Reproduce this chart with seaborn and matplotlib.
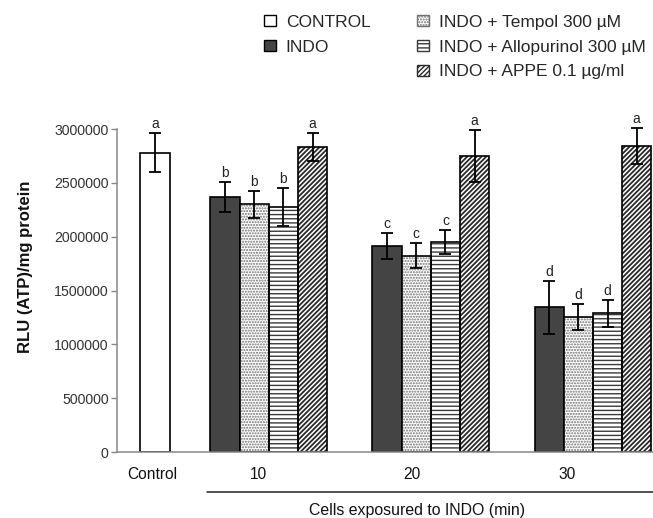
import numpy as np
import pandas as pd
import matplotlib
matplotlib.use("Agg")
import matplotlib.pyplot as plt
import matplotlib.patches as mpatches
import matplotlib.transforms as mtransforms
from matplotlib.ticker import FuncFormatter
import seaborn as sns

# ---------------- data ----------------
series_names = ["CONTROL", "INDO", "INDO + Tempol 300 µM",
                "INDO + Allopurinol 300 µM", "INDO + APPE 0.1 µg/ml"]
tick_labels = ["Control", "10", "20", "30"]
times = ["10", "20", "30"]

control_mean = [2780000]
control_sd = [180000]
control_letter = ["a"]

indo_mean = [2365000, 1915000, 1345000]
indo_sd = [140000, 120000, 245000]
indo_letter = ["b", "c", "d"]

tempol_mean = [2300000, 1825000, 1250000]
tempol_sd = [125000, 120000, 120000]
tempol_letter = ["b", "c", "d"]

allo_mean = [2275000, 1950000, 1290000]
allo_sd = [180000, 110000, 125000]
allo_letter = ["b", "c", "d"]

appe_mean = [2830000, 2750000, 2840000]
appe_sd = [130000, 240000, 165000]
appe_letter = ["a", "a", "a"]

x_title = "Cells exposured to INDO (min)"
y_title = "RLU (ATP)/mg protein"

# ---------------- layout / style ----------------
W, H, DPI = 6.53, 5.18, 100
control_center = 1.3          # in bar-width units
group_first = 3.2             # left edge of first treatment group
group_step = 5.55             # distance between group starts
x_max = 18.35
tick_pos = [1.2, 4.85, 10.1, 15.4]

styles = {
    "CONTROL": dict(face="white", hatch=None, hc="black", hlw=1.0),
    "INDO": dict(face="#444444", hatch=None, hc="black", hlw=1.0),
    "INDO + Tempol 300 µM": dict(face="white", hatch="......", hc="#707070", hlw=1.0),
    "INDO + Allopurinol 300 µM": dict(face="white", hatch="----", hc="#3a3a3a", hlw=1.0),
    "INDO + APPE 0.1 µg/ml": dict(face="white", hatch="///////", hc="#2a2a2a", hlw=1.3),
}

sns.set_style("white")
plt.rcParams["font.family"] = ["Liberation Sans", "DejaVu Sans"]
plt.rcParams["hatch.linewidth"] = 1.0

# build table
rows = []
rows.append(dict(series="CONTROL", pos=control_center, mean=control_mean[0],
                 sd=control_sd[0], letter=control_letter[0]))
treat = [("INDO", indo_mean, indo_sd, indo_letter),
         ("INDO + Tempol 300 µM", tempol_mean, tempol_sd, tempol_letter),
         ("INDO + Allopurinol 300 µM", allo_mean, allo_sd, allo_letter),
         ("INDO + APPE 0.1 µg/ml", appe_mean, appe_sd, appe_letter)]
for g, t in enumerate(times):
    start = group_first + g * group_step
    for j, (name, m, s, l) in enumerate(treat):
        rows.append(dict(series=name, pos=round(start + 0.5 + j, 4),
                         mean=m[g], sd=s[g], letter=l[g]))
df = pd.DataFrame(rows)

fig = plt.figure(figsize=(W, H), dpi=DPI)
ax = fig.add_axes([117 / 653, 1 - 452 / 518, (652.8 - 117) / 653, 323 / 518])

palette = {k: v["face"] for k, v in styles.items()}
sns.barplot(data=df, x="pos", y="mean", hue="series", hue_order=series_names,
            palette=palette, native_scale=True, width=1.0, errorbar=None,
            legend=False, saturation=1, ax=ax, zorder=2)

has_hc = hasattr(mpatches.Patch, "set_hatchcolor")
has_hlw = hasattr(mpatches.Patch, "set_hatch_linewidth")
for p in list(ax.patches):
    cx = p.get_x() + p.get_width() / 2
    idx = (df["pos"] - cx).abs().idxmin()
    st = styles[df.loc[idx, "series"]]
    p.set_facecolor(st["face"])
    if st["hatch"]:
        p.set_hatch(st["hatch"])
        if has_hlw:
            p.set_hatch_linewidth(st["hlw"])
        if has_hc:
            p.set_edgecolor("black")
            p.set_hatchcolor(st["hc"])
            p.set_linewidth(1.2)
        else:
            p.set_edgecolor(st["hc"])
            p.set_linewidth(0)
            ax.add_patch(mpatches.Rectangle(p.get_xy(), p.get_width(), p.get_height(),
                                            fill=False, edgecolor="black", lw=1.2,
                                            zorder=2.5))
    else:
        p.set_edgecolor("black")
        p.set_linewidth(1.2)

ax.errorbar(df["pos"], df["mean"], yerr=df["sd"], fmt="none", ecolor="black",
            elinewidth=1.3, capsize=4.5, capthick=1.3, zorder=4, clip_on=False)

for _, r in df.iterrows():
    ax.annotate(r["letter"], (r["pos"], r["mean"] + r["sd"]), xytext=(0, 1.5),
                textcoords="offset points", ha="center", va="bottom",
                fontsize=10, color="#222222", annotation_clip=False)

ax.set_xlim(0, x_max)
ax.set_ylim(0, 3000000)
ax.set_yticks(np.arange(0, 3000001, 500000))
ax.yaxis.set_major_formatter(FuncFormatter(lambda v, _: f"{int(v)}"))
ax.set_xticks(tick_pos)
ax.set_xticklabels(tick_labels)
ax.tick_params(axis="x", length=0, pad=11, labelsize=11.2, labelcolor="#111111")
ax.tick_params(axis="y", left=True, length=4, width=1, color="#888888",
               pad=2, labelsize=10.2, labelcolor="#333333", direction="out")
ax.set_xlabel("")
ax.set_ylabel(y_title, fontsize=12, fontweight="bold", color="#111111")
ax.yaxis.set_label_coords(-0.157, 0.574)
for s in ["top", "right"]:
    ax.spines[s].set_visible(False)
for s in ["left", "bottom"]:
    ax.spines[s].set_color("#888888")
    ax.spines[s].set_linewidth(1.1)

trans = mtransforms.blended_transform_factory(ax.transData, ax.transAxes)
ax.plot([group_first - 0.13, x_max], [-0.123, -0.123], transform=trans,
        color="#222222", lw=1.1, clip_on=False)
ax.text(10.27, -0.18, x_title, transform=trans, ha="center", va="center",
        fontsize=11.4, color="#111111")

def handle(name):
    st = styles[name]
    kw = dict(facecolor=st["face"], lw=1.0)
    if st["hatch"]:
        kw["hatch"] = st["hatch"]
        if has_hc:
            kw["edgecolor"] = "black"
            kw["hatchcolor"] = st["hc"]
        else:
            kw["edgecolor"] = st["hc"]
    else:
        kw["edgecolor"] = "black"
    return mpatches.Patch(label=name, **kw)

leg_kw = dict(loc="upper left", frameon=False, fontsize=12.5, handlelength=0.7,
              handleheight=0.6, handletextpad=0.55, labelspacing=0.56,
              borderpad=0, borderaxespad=0)
fig.legend(handles=[handle(n) for n in series_names[:2]],
           bbox_to_anchor=(264 / 653, 1 - 15 / 518), **leg_kw)
fig.legend(handles=[handle(n) for n in series_names[2:]],
           bbox_to_anchor=(417 / 653, 1 - 15 / 518), **leg_kw)

fig.savefig("out.png", dpi=DPI)
